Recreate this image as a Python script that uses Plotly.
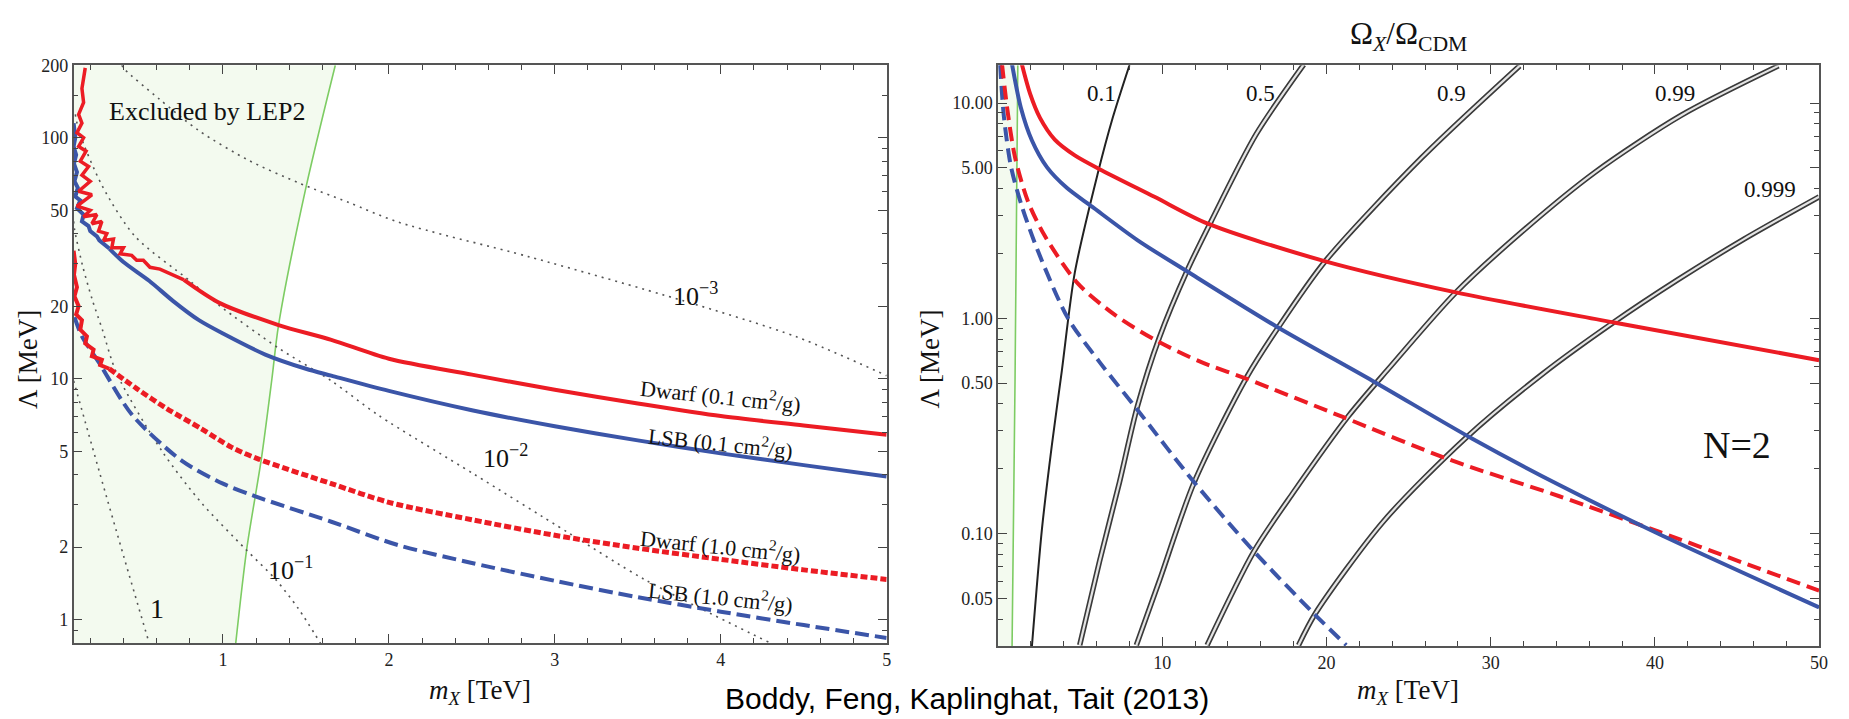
import numpy as np
import plotly.graph_objects as go

W, H = 1849, 719

# ---------------- Left panel data (m_X in TeV, Lambda in MeV) ----------------
lep_x = [1.077, 1.143, 1.233, 1.295, 1.335, 1.497, 1.677]
lep_y = [0.8, 1.96, 4.73, 10.0, 16.7, 60.8, 200]

# Dwarf (0.1 cm^2/g): noisy low-mass part, then smooth part
dwarf01_noisy_x = [0.17, 0.15, 0.16, 0.13, 0.15, 0.12, 0.16, 0.13, 0.175, 0.14, 0.19, 0.15, 0.2, 0.13,
                   0.21, 0.12, 0.2, 0.16, 0.24, 0.21, 0.27, 0.25, 0.3, 0.28, 0.34, 0.33, 0.4, 0.38,
                   0.45, 0.48, 0.52, 0.56, 0.62, 0.7, 0.765]
dwarf01_noisy_y = [195, 160, 140, 125, 115, 105, 100, 92, 88, 80, 76, 70, 66, 60,
                   58, 52, 50, 47, 48, 44, 45, 41, 40, 37.5, 38, 35, 35, 33,
                   32.5, 31, 31, 29, 28.5, 27, 25.7]
dwarf01_x = [0.765, 0.975, 1.335, 1.653, 2.0, 2.5, 3.0, 3.5, 4.0, 4.5, 5.0]
dwarf01_y = [25.7, 20.7, 16.7, 14.5, 12.1, 10.4, 9.0, 7.9, 7.0, 6.4, 5.86]

lsb01_noisy_x = [0.1, 0.11, 0.1, 0.115, 0.102, 0.12, 0.105, 0.125, 0.11, 0.14, 0.12, 0.16, 0.15,
                 0.19, 0.2, 0.24, 0.255, 0.3, 0.315]
lsb01_noisy_y = [115, 100, 92, 85, 78, 72, 66, 62, 57, 55, 51, 48, 45,
                 43, 41, 39, 37.5, 35.5, 34.7]
lsb01_x = [0.315, 0.4, 0.555, 0.7, 0.855, 1.0, 1.255, 1.5, 1.653, 2.0, 2.5, 3.0, 3.5, 4.0, 4.5, 5.0]
lsb01_y = [34.7, 30.5, 25.5, 21.0, 17.5, 15.4, 12.6, 11.0, 10.3, 8.9, 7.4, 6.35, 5.55, 4.9, 4.38, 3.93]

dwarf10_noisy_x = [0.1, 0.11, 0.102, 0.12, 0.105, 0.13, 0.115, 0.15, 0.14, 0.18, 0.17, 0.22, 0.21,
                   0.27, 0.26, 0.315]
dwarf10_noisy_y = [34, 30, 27, 24, 22, 20, 18.5, 17.5, 16, 15, 14, 13.2, 12.4,
                   12, 11.4, 11.0]
dwarf10_x = [0.315, 0.48, 0.657, 0.87, 1.053, 1.215, 1.653, 2.0, 2.5, 3.0, 3.5, 4.0, 4.5, 5.0]
dwarf10_y = [11.0, 9.1, 7.55, 6.2, 5.19, 4.64, 3.67, 3.07, 2.6, 2.24, 1.98, 1.78, 1.61, 1.47]

lsb10_x = [0.105, 0.15, 0.255, 0.453, 0.753, 1.0, 1.195, 1.653, 2.055, 2.5, 3.0, 3.5, 4.0, 4.5, 5.0]
lsb10_y = [18, 15, 11.6, 7.07, 4.56, 3.67, 3.25, 2.55, 2.04, 1.72, 1.45, 1.24, 1.08, 0.95, 0.84]

# dotted contours (labelled 1, 10^-1, 10^-2, 10^-3)
c1_x = [0.1, 0.255, 0.405, 0.555]
c1_y = [9.8, 4.11, 1.80, 0.8]
c01_x = [0.1, 0.105, 0.153, 0.213, 0.273, 0.36, 0.633, 0.873, 1.137, 1.317, 1.455, 1.587]
c01_y = [45, 41.8, 29.6, 21.2, 16.0, 10.5, 5.0, 3.04, 1.96, 1.47, 1.11, 0.8]
c001_x = [0.11, 0.135, 0.273, 0.47, 0.8, 0.975, 1.335, 1.653, 1.935, 2.51, 3.08, 3.54, 4.3]
c001_y = [125, 105, 63, 39, 25.5, 20.2, 13.4, 9.8, 7.07, 4.03, 2.30, 1.47, 0.8]
c0001_x = [0.39, 0.405, 0.615, 0.855, 1.155, 1.455, 1.755, 2.055, 2.85, 3.77, 4.46, 5.0]
c0001_y = [200, 193, 145, 107, 80.6, 65.0, 54, 44.7, 32.0, 21.1, 14.9, 10.3]

left_xticks = [1, 2, 3, 4, 5]
left_yticks = [1, 2, 5, 10, 20, 50, 100, 200]
left_yminor = [0.8, 0.9, 3, 4, 6, 7, 8, 9, 30, 40, 60, 70, 80, 90, 150]

# ---------------- Right panel data (N=2) ----------------
r_lep_x = [0.85, 1.03, 1.2]
r_lep_y = [0.03, 0.51, 15]

r_dwarf01_x = [1.45, 1.94, 2.55, 3.45, 4.67, 6.30, 9.52, 12.73, 19.82, 27.88, 37.58, 50]
r_dwarf01_y = [15.1, 11.1, 8.54, 6.77, 5.72, 4.88, 3.67, 2.76, 1.85, 1.32, 0.954, 0.639]

r_lsb01_x = [0.85, 1.39, 2.06, 2.97, 4.18, 5.70, 8.48, 11.52, 16.97, 22.79, 28.91, 34.18, 40.18, 50]
r_lsb01_y = [15.1, 9.49, 6.70, 5.04, 4.04, 3.31, 2.31, 1.65, 0.914, 0.513, 0.275, 0.168, 0.1, 0.0454]

r_dwarf10_x = [0.24, 0.55, 1.03, 1.82, 2.85, 4.85, 7.09, 9.52, 12.24, 15.15, 21.03, 27.52, 34.18,
               40.24, 45.27, 50]
r_dwarf10_y = [15.1, 9.49, 5.60, 3.49, 2.41, 1.454, 1.04, 0.797, 0.632, 0.523, 0.347, 0.220, 0.149,
               0.102, 0.0736, 0.0543]

r_lsb10_x = [0.12, 0.36, 0.79, 1.45, 2.42, 4.24, 6.18, 8.42, 11.94, 15.58, 19.21, 21.2]
r_lsb10_y = [15.1, 8.54, 5.04, 3.31, 2.06, 1.005, 0.626, 0.381, 0.173, 0.0826, 0.0426, 0.0303]

# Omega_X / Omega_CDM contours
om01_x = [8.0, 6.97, 6.06, 4.67, 3.88, 3.27, 2.67, 2.06]
om01_y = [15, 8.5, 4.68, 1.63, 0.57, 0.256, 0.105, 0.03]
om05_x = [18.61, 15.70, 12.97, 11.52, 9.82, 8.48, 7.39, 6.18, 4.97]
om05_y = [15.1, 7.14, 2.82, 1.67, 0.814, 0.389, 0.173, 0.0744, 0.0303]
om09_x = [31.76, 25.82, 19.94, 17.09, 15.15, 11.94, 9.82, 8.42]
om09_y = [14.9, 5.60, 1.85, 0.914, 0.534, 0.173, 0.0603, 0.0303]
om099_x = [47.52, 41.64, 36.36, 31.94, 27.88, 23.76, 21.33, 18.0, 15.58, 12.73]
om099_y = [14.9, 8.81, 4.78, 2.54, 1.32, 0.581, 0.351, 0.156, 0.0826, 0.0303]
om0999_x = [50, 45.45, 41.33, 37.45, 33.15, 28.48, 23.45, 19.33, 18.3]
om0999_y = [3.67, 2.34, 1.50, 0.954, 0.551, 0.278, 0.1135, 0.0426, 0.0303]

right_xticks = [10, 20, 30, 40, 50]
right_yticks = [0.05, 0.1, 0.5, 1, 5, 10]
right_yticktext = ["0.05", "0.10", "0.50", "1.00", "5.00", "10.00"]
right_yminor = [0.03, 0.04, 0.06, 0.07, 0.08, 0.09, 0.2, 0.3, 0.4, 0.6, 0.7, 0.8, 0.9, 2, 3, 4, 6, 7, 8, 9]

RED = "#ec1c24"
BLUE = "#3b55a8"
GREEN_LINE = "#7dcc63"
GREEN_FILL = "#f3faef"
DOT = "#555555"
SERIF = "Liberation Serif, Times New Roman, serif"

fig = go.Figure()

def add(x, y, xa, ya, color, width, dash="solid", fill=None, fillcolor=None, smooth=True):
    fig.add_trace(go.Scatter(x=x, y=y, xaxis=xa, yaxis=ya, mode="lines",
                             line=dict(color=color, width=width, dash=dash,
                                       shape="spline" if smooth else "linear",
                                       smoothing=0.8 if smooth else None),
                             fill=fill, fillcolor=fillcolor, hoverinfo="skip"))

# ---- left panel ----
add([0.1] + lep_x + [0.1], [0.8] + lep_y + [200], "x", "y", "rgba(0,0,0,0)", 0,
    fill="toself", fillcolor=GREEN_FILL, smooth=False)
add(lep_x, lep_y, "x", "y", GREEN_LINE, 1.6)
for cx, cy in [(c1_x, c1_y), (c01_x, c01_y), (c001_x, c001_y), (c0001_x, c0001_y)]:
    add(cx, cy, "x", "y", DOT, 1.6, dash="2px,5px")
add(lsb10_x, lsb10_y, "x", "y", BLUE, 4, dash="14px,6px")
add(dwarf10_noisy_x, dwarf10_noisy_y, "x", "y", RED, 4, smooth=False)
add(dwarf10_x, dwarf10_y, "x", "y", RED, 5, dash="7px,3px")
add(lsb01_noisy_x, lsb01_noisy_y, "x", "y", BLUE, 4, smooth=False)
add(lsb01_x, lsb01_y, "x", "y", BLUE, 4)
add(dwarf01_noisy_x, dwarf01_noisy_y, "x", "y", RED, 3.5, smooth=False)
add(dwarf01_x, dwarf01_y, "x", "y", RED, 4)

# ---- right panel ----
add([0] + r_lep_x + [0], [0.03] + r_lep_y + [15], "x2", "y2", "rgba(0,0,0,0)", 0,
    fill="toself", fillcolor=GREEN_FILL, smooth=False)
add(r_lep_x, r_lep_y, "x2", "y2", GREEN_LINE, 1.6)
add(om01_x, om01_y, "x2", "y2", "#222222", 2)
for ox, oy in [(om05_x, om05_y), (om09_x, om09_y), (om099_x, om099_y), (om0999_x, om0999_y)]:
    add(ox, oy, "x2", "y2", "#3a3a3a", 5.5)
    add(ox, oy, "x2", "y2", "#e4e4e4", 2.2)
add(r_lsb10_x, r_lsb10_y, "x2", "y2", BLUE, 4, dash="14px,7px")
add(r_dwarf10_x, r_dwarf10_y, "x2", "y2", RED, 4, dash="14px,7px")
add(r_lsb01_x, r_lsb01_y, "x2", "y2", BLUE, 4)
add(r_dwarf01_x, r_dwarf01_y, "x2", "y2", RED, 4)

tickfont = dict(family=SERIF, size=18, color="#222")
axcommon = dict(showline=True, linecolor="#555", linewidth=1.5, mirror="allticks", ticks="inside",
                ticklen=9, tickwidth=1.2, tickcolor="#444", showgrid=False, zeroline=False,
                tickfont=tickfont)

fig.update_layout(
    width=W, height=H, margin=dict(l=0, r=0, t=0, b=0),
    paper_bgcolor="white", plot_bgcolor="white", showlegend=False,
    xaxis=dict(domain=[74 / W, 891 / W], range=[0.1, 5], anchor="y", tickvals=left_xticks,
               minor=dict(dtick=0.2, tick0=0, ticks="inside", ticklen=5, tickcolor="#444"), **axcommon),
    yaxis=dict(domain=[1 - 642 / H, 1 - 56 / H], type="log", anchor="x",
               range=[np.log10(0.8), np.log10(200)], tickvals=left_yticks,
               ticktext=[str(v) for v in left_yticks],
               minor=dict(tickvals=left_yminor, ticks="inside", ticklen=5, tickcolor="#444"), **axcommon),
    xaxis2=dict(domain=[1003 / W, 1828 / W], range=[0, 50], anchor="y2", tickvals=right_xticks,
                minor=dict(dtick=2, tick0=0, ticks="inside", ticklen=5, tickcolor="#444"), **axcommon),
    yaxis2=dict(domain=[1 - 645 / H, 1 - 56 / H], type="log", anchor="x2",
                range=[np.log10(0.03), np.log10(15)], tickvals=right_yticks, ticktext=right_yticktext,
                minor=dict(tickvals=right_yminor, ticks="inside", ticklen=5, tickcolor="#444"), **axcommon),
)

ann = []
def A(text, x, y, xref, yref, size, angle=0, family=SERIF, color="#111", xanchor="center", yanchor="middle"):
    ann.append(dict(text=text, x=x, y=y, xref=xref, yref=yref, showarrow=False, textangle=angle,
                    font=dict(family=family, size=size, color=color), xanchor=xanchor, yanchor=yanchor))

L = np.log10
# left panel text
A("Excluded by LEP2", 0.903, L(128), "x", "y", 26)
A("10<sup>−3</sup>", 3.85, L(22.4), "x", "y", 26)
A("10<sup>−2</sup>", 2.70, L(4.77), "x", "y", 26)
A("10<sup>−1</sup>", 1.41, L(1.63), "x", "y", 26)
A("1", 0.605, L(1.11), "x", "y", 28)
A("Dwarf (0.1 cm<sup>2</sup>/g)", 4.0, L(8.53), "x", "y", 22, angle=6)
A("LSB (0.1 cm<sup>2</sup>/g)", 4.0, L(5.44), "x", "y", 22, angle=6)
A("Dwarf (1.0 cm<sup>2</sup>/g)", 4.0, L(2.05), "x", "y", 22, angle=6)
A("LSB (1.0 cm<sup>2</sup>/g)", 4.0, L(1.26), "x", "y", 22, angle=6)
A("Λ [MeV]", 28 / W, 1 - 354 / H, "paper", "paper", 27, angle=-90)
A("<i>m</i><sub><i>X</i></sub> [TeV]", 482 / W, 1 - 692 / H, "paper", "paper", 27)

# right panel text
A("0.1", 6.3, L(11.1), "x2", "y2", 23)
A("0.5", 16.0, L(11.1), "x2", "y2", 23)
A("0.9", 27.6, L(11.1), "x2", "y2", 23)
A("0.99", 41.2, L(11.1), "x2", "y2", 23)
A("0.999", 47.0, L(3.95), "x2", "y2", 23)
A("N=2", 45.0, L(0.258), "x2", "y2", 38)
A("Λ [MeV]", 935 / W, 1 - 354 / H, "paper", "paper", 27, angle=-90)
A("<i>m</i><sub><i>X</i></sub> [TeV]", 1415 / W, 1 - 692 / H, "paper", "paper", 27)
A("Ω<sub><i>X</i></sub>/Ω<sub>CDM</sub>", 1415 / W, 1 - 26 / H, "paper", "paper", 31)

A("Boddy, Feng, Kaplinghat, Tait (2013)", 972 / W, 1 - 717 / H, "paper", "paper", 30,
  family="Liberation Sans, Arial, sans-serif", color="#000", yanchor="bottom")

fig.update_layout(annotations=ann)
fig.write_html("out.html")
